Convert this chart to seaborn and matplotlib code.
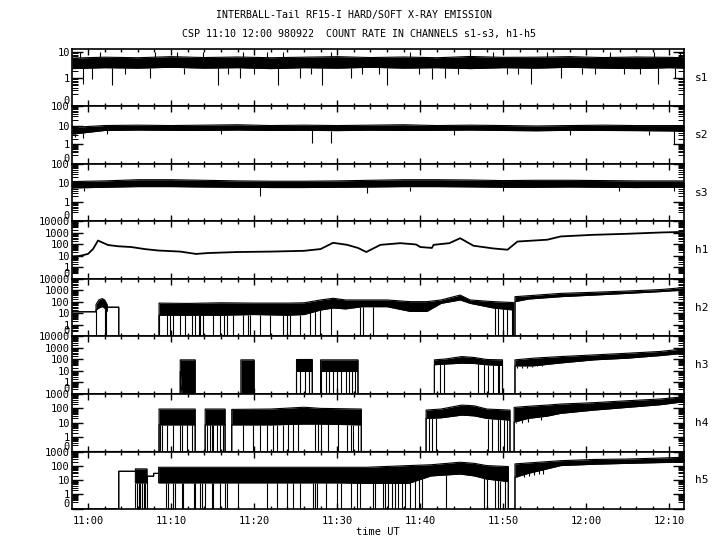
import numpy as np
import matplotlib
matplotlib.use("Agg")
import matplotlib.pyplot as plt
import matplotlib.ticker as mticker
import seaborn as sns

# ── Data (time in minutes after 11:00 UT, count rates) ─────────────────────────
T0, T1 = -1.93, 71.75

# soft channels: noisy band (lo/hi) + single spikes
s_t   = [-1.93, 2, 6, 10, 14, 18, 22, 26, 30, 34, 38, 42, 46, 50, 54, 58, 62, 66, 70, 71.75]
s1_lo = [2.4, 2.6, 2.5, 2.7, 2.5, 2.6, 2.4, 2.6, 2.5, 2.7, 2.5, 2.6, 2.4, 2.6, 2.5, 2.7, 2.5, 2.4, 2.6, 2.5]
s1_hi = [6.0, 6.5, 6.2, 6.8, 6.3, 6.6, 6.2, 6.5, 6.8, 6.3, 6.6, 6.2, 6.9, 6.4, 6.5, 6.8, 6.3, 6.6, 6.4, 6.2]
s2_lo = [3.5, 5.5, 5.8, 5.6, 5.5, 5.8, 5.5, 5.6, 5.4, 5.7, 5.5, 5.6, 5.8, 5.5, 5.3, 5.6, 5.5, 5.4, 5.2, 5.0]
s2_hi = [8.0, 10, 10.5, 10, 10.5, 11, 10, 10.5, 10, 10.5, 11, 10, 10.5, 10, 9.5, 10, 10.5, 10, 10, 10]
s3_lo = [5.5, 6.0, 6.5, 6.5, 6.2, 6.0, 5.8, 5.8, 6.0, 6.2, 6.5, 6.5, 6.3, 6.0, 6.0, 6.2, 6.0, 5.8, 6.0, 6.0]
s3_hi = [12, 13, 15, 15, 14, 13, 12.5, 12.5, 13, 14, 15, 15, 14.5, 13.5, 14, 14, 13.5, 13, 13, 13]

s1_spk_t = [-1.0, -0.6, 0.5, 1.4, 2.9, 4.5, 7.5, 8.1, 10.7, 11.5, 13.9, 15.7, 16.8, 18.3, 18.6,
            20.0, 21.6, 22.9, 23.5, 25.5, 26.8, 28.2, 29.2, 31.6, 33.0, 35.0, 36.0, 38.8, 39.8,
            41.4, 43.0, 44.5, 46.0, 48.8, 50.5, 51.8, 53.3, 55.3, 56.9, 59.5, 61.0, 62.9, 64.5,
            66.5, 68.1, 68.6, 70.7, 71.3]
s1_spk_v = [10, 0.55, 0.9, 10, 0.5, 1.5, 1.0, 10, 10, 1.5, 10, 0.5, 1.5, 1.0, 10,
            1.5, 10, 0.5, 10, 1.0, 1.5, 0.5, 10, 1.0, 1.5, 1.5, 0.5, 10, 1.5,
            0.9, 1.0, 1.5, 10, 10, 1.5, 1.5, 0.55, 10, 1.0, 1.5, 1.5, 10, 1.5,
            1.5, 10, 0.55, 1.0, 10]
s2_spk_t = [-1.6, -0.6, 2.3, 16.0, 27.0, 29.2, 44.0, 58.0, 67.5, 70.5]
s2_spk_v = [2.5, 2.2, 3.5, 3.5, 1.1, 1.2, 3.0, 3.0, 3.0, 1.0]
s3_spk_t = [-0.5, 20.7, 33.6, 38.8, 50.0, 63.9, 70.5]
s3_spk_v = [4, 2, 3, 4, 4, 4, 4]

# h1: single smooth trace
h1_t = [-1.93, -1.0, 0.0, 0.6, 1.2, 2.4, 3.6, 5.2, 6.8, 8.4, 11.1, 13.0, 14.5, 18, 22, 26, 28,
        29.5, 31.2, 32.5, 33.5, 35.2, 37.6, 39.5, 40.0, 41.4, 41.6, 43.5, 44.8, 46.4, 48.8,
        50.5, 51.7, 55.3, 56.9, 60.8, 64.9, 68.9, 71.75]
h1_v = [9, 10, 15, 40, 220, 90, 70, 60, 40, 30, 24, 15, 18, 22, 24, 28, 40,
        140, 93, 50, 22, 93, 130, 100, 60, 50, 93, 130, 350, 78, 45,
        35, 180, 260, 500, 690, 850, 1100, 1250]

# hard channels: band (lo/hi), zero where no counts, plus drop-outs to zero
h2_t  = [-1.93, 0.96, 0.96, 1.3, 1.7, 2.0, 2.3, 2.3, 3.7, 3.7, 8.55, 8.55, 12, 16, 20, 24, 26, 28,
         29.5, 31, 33, 36, 38.8, 40.8, 42.5, 44.8, 46, 48.8, 51.2, 51.2, 51.4, 51.4, 53, 56.9,
         60.9, 64.9, 68.9, 71.75]
h2_lo = [14, 14, 20, 30, 40, 30, 15, 35, 35, 0, 0, 7, 7, 7, 8, 7, 8, 20,
         30, 25, 39, 39, 15, 15, 76, 150, 76, 30, 20, 0, 0, 107, 180, 290,
         400, 560, 800, 1100]
h2_hi = [14, 14, 60, 150, 200, 150, 60, 35, 35, 0, 0, 80, 75, 85, 80, 80, 85, 150,
         210, 150, 150, 150, 107, 107, 150, 400, 150, 107, 90, 0, 0, 290, 350, 560,
         700, 900, 1200, 1800]
h2_drop = [0.96, 2.0, 2.2, 3.7, 8.55, 9.5, 9.9, 10.2, 11.1, 11.7, 12.5, 12.9, 13.3, 13.5, 13.9,
           15.1, 15.9, 16.4, 16.7, 17.5, 18.7, 19.2, 19.5, 20.7, 21.9, 23.5, 24.0, 24.3, 25.5,
           26.7, 27.3, 27.9, 29.2, 32.8, 33.1, 34.3, 49.0, 49.4, 50.0, 50.5, 51.1]

h3_t  = [-1.93, 11.1, 11.1, 11.3, 12.9, 12.9, 18.4, 18.4, 20.0, 20.0, 25.1, 25.1, 26, 27.0, 27.0,
         28.0, 28.0, 30, 32.5, 32.5, 41.7, 41.7, 43, 45, 46.5, 48, 49.9, 49.9, 51.4, 51.4,
         53.6, 56.9, 60.9, 64.9, 68.9, 71.75]
h3_lo = [0, 0, 9, 0, 0, 0, 0, 0, 0, 0, 0, 9, 9, 9, 0,
         0, 9, 9, 9, 0, 0, 35, 40, 48, 45, 35, 30, 0, 0, 28,
         28, 50, 93, 130, 220, 350]
h3_hi = [0, 0, 93, 93, 93, 0, 0, 93, 93, 0, 0, 100, 100, 100, 0,
         0, 93, 93, 93, 0, 0, 93, 110, 180, 150, 100, 93, 0, 0, 93,
         130, 180, 250, 350, 500, 850]
h3_drop = [25.5, 26.1, 26.6, 28.1, 28.6, 29.0, 29.5, 30.0, 30.4, 31.0, 31.4, 31.8, 32.2,
           42.4, 42.8, 47.0, 47.7, 48.2, 48.8, 49.3, 49.5]
h3_dip_t = [51.6, 52.3, 52.9, 53.5, 54.1, 54.7]
h3_dip_v = [18, 18, 20, 22, 25, 25]

h4_t  = [-1.93, 8.55, 8.55, 12.9, 12.9, 14.1, 14.1, 16.5, 16.5, 17.3, 17.3, 22, 26, 28, 32.9, 32.9,
         40.7, 40.7, 42.5, 45, 46.5, 48, 50.8, 50.8, 51.3, 51.3, 53, 55.3, 56.9, 60.9, 64.9,
         68.9, 71.75]
h4_lo = [0, 0, 7, 7, 0, 0, 7, 7, 0, 0, 7, 7, 8, 8, 7, 0,
         0, 20, 22, 34, 30, 20, 15, 0, 0, 11, 20, 29, 45, 76, 117,
         180, 290]
h4_hi = [0, 0, 90, 90, 0, 0, 90, 90, 0, 0, 85, 90, 120, 100, 90, 0,
         0, 76, 90, 170, 150, 90, 76, 0, 0, 117, 140, 170, 200, 250, 340,
         450, 650]
h4_drop = [8.7, 8.9, 9.5, 10.2, 11.1, 11.3, 11.9, 12.5, 14.3, 14.7, 14.9, 15.1, 15.5, 15.9, 16.3,
           18.7, 19.9, 20.7, 21.6, 22.3, 22.8, 23.5, 24.1, 24.7, 25.3, 27.3, 27.7, 28.0, 28.9,
           30.1, 31.2, 31.6, 31.9, 32.5, 41.0, 41.4, 41.9, 48.2, 48.6, 49.3, 49.6, 50.1, 50.5]
h4_dip_t = [51.5, 52.2, 53.0, 54.5]
h4_dip_v = [10, 10, 12, 15]

h5_t  = [-1.93, 3.7, 3.7, 5.7, 5.7, 7.1, 7.1, 7.9, 7.9, 8.5, 8.5, 20, 30, 33.5, 38.6, 41.3,
         44.8, 46.5, 48, 50.6, 50.6, 51.4, 51.4, 53, 56.9, 60.9, 64.9, 68.9, 71.75]
h5_lo = [0, 0, 42, 42, 6.5, 6.5, 19, 19, 30, 30, 6.5, 6.5, 6.5, 6, 6, 20,
         27, 20, 12, 8, 0, 0, 16, 30, 105, 130, 150, 170, 180]
h5_hi = [0, 0, 42, 42, 62, 62, 19, 19, 30, 30, 80, 80, 80, 80, 105, 120,
         180, 150, 105, 90, 0, 0, 138, 160, 230, 280, 300, 350, 400]
h5_drop = [5.7, 5.9, 6.1, 6.3, 6.5, 6.7, 6.9, 7.1, 9.4, 9.6, 10.2, 10.5, 11.3, 11.4, 12.7, 12.9,
           13.5, 13.7, 14.1, 14.9, 15.1, 15.9, 16.5, 16.7, 18.0, 21.6, 22.8, 24.0, 24.7, 25.5,
           27.1, 27.3, 27.6, 28.6, 30.0, 30.4, 31.6, 32.4, 32.8, 34.3, 34.6, 35.5, 35.8, 36.1,
           36.6, 37.0, 37.3, 37.8, 38.2, 38.8, 39.4, 39.9, 40.2, 43.1, 47.7, 48.0, 49.0, 49.3,
           49.6, 50.2]
h5_dip_t = [51.7, 52.5, 53.1, 53.7, 54.3, 54.8]
h5_dip_v = [16, 16, 20, 22, 27, 27]

channels = ["s1", "s2", "s3", "h1", "h2", "h3", "h4", "h5"]
top_dec  = [1.12, 2, 2, 4, 4, 4, 3, 3]      # panel top in decades (bottom = "0")

# ── Style ──────────────────────────────────────────────────────────────────────
sns.set_style("ticks")
plt.rcParams.update({
    "font.family": ["DejaVu Sans Mono"],
    "font.size": 7.5,
    "axes.linewidth": 1.2,
    "axes.edgecolor": "black",
    "xtick.color": "black",
    "ytick.color": "black",
    "text.color": "black",
    "axes.labelcolor": "black",
})
LW = 0.8
C0 = 0.1   # zero sits one decade below 1


def fwd(x):
    return np.log10(np.clip(np.asarray(x, dtype=float) + C0, 1e-9, None))


def inv(y):
    return 10 ** np.asarray(y, dtype=float) - C0


def line(ax, x, y, lw=LW):
    sns.lineplot(x=np.asarray(x, float), y=np.asarray(y, float), ax=ax, color="black",
                 lw=lw, estimator=None, sort=False)


def band(ax, t, lo, hi):
    ax.fill_between(t, lo, hi, color="black", lw=0)
    line(ax, t, lo)
    line(ax, t, hi)


def spikes(ax, t, lo, hi, st, sv):
    lo_i = np.interp(st, t, lo)
    hi_i = np.interp(st, t, hi)
    sv = np.asarray(sv, float)
    base = np.where(sv < lo_i, lo_i, hi_i)
    ax.vlines(st, sv, base, color="black", lw=LW)


def drops(ax, t, lo, dt):
    ax.vlines(dt, 0, np.interp(dt, t, lo), color="black", lw=LW)


fig = plt.figure(figsize=(7.2, 5.5), dpi=100)
axes = fig.subplots(8, 1, sharex=True)
fig.subplots_adjust(left=0.1, right=0.95, top=0.911, bottom=0.0745, hspace=0)

for ax in axes:
    ax.set_yscale("function", functions=(fwd, inv))

# soft channels
for ax, lo, hi, st, sv in [(axes[0], s1_lo, s1_hi, s1_spk_t, s1_spk_v),
                           (axes[1], s2_lo, s2_hi, s2_spk_t, s2_spk_v),
                           (axes[2], s3_lo, s3_hi, s3_spk_t, s3_spk_v)]:
    band(ax, s_t, lo, hi)
    spikes(ax, s_t, lo, hi, st, sv)

line(axes[3], h1_t, h1_v, lw=1.3)

band(axes[4], h2_t, h2_lo, h2_hi)
drops(axes[4], h2_t, h2_lo, h2_drop)

band(axes[5], h3_t, h3_lo, h3_hi)
drops(axes[5], h3_t, h3_lo, h3_drop)
spikes(axes[5], h3_t, h3_lo, h3_hi, h3_dip_t, h3_dip_v)

band(axes[6], h4_t, h4_lo, h4_hi)
drops(axes[6], h4_t, h4_lo, h4_drop)
spikes(axes[6], h4_t, h4_lo, h4_hi, h4_dip_t, h4_dip_v)

band(axes[7], h5_t, h5_lo, h5_hi)
drops(axes[7], h5_t, h5_lo, h5_drop)
spikes(axes[7], h5_t, h5_lo, h5_hi, h5_dip_t, h5_dip_v)


def hhmm(m, _):
    m = int(round(m))
    return f"{11 + m // 60}:{m % 60:02d}"


for i, (ax, name, top) in enumerate(zip(axes, channels, top_dec)):
    ymax = 10 ** top
    ax.set_ylim(0, ymax)
    ax.set_xlim(T0, T1)
    ndec = int(np.floor(top + 1e-9))
    major = [0] + [10 ** d for d in range(0, ndec + 1)]
    minor = [k * 10.0 ** d for d in range(-1, ndec + 1) for k in range(2, 10)
             if k * 10.0 ** d < ymax]
    ax.yaxis.set_major_locator(mticker.FixedLocator(major))
    ax.yaxis.set_major_formatter(mticker.FixedFormatter([str(v) for v in major]))
    ax.yaxis.set_minor_locator(mticker.FixedLocator(minor))
    ax.yaxis.set_minor_formatter(mticker.NullFormatter())
    ax.xaxis.set_major_locator(mticker.MultipleLocator(10))
    ax.xaxis.set_minor_locator(mticker.MultipleLocator(2))
    ax.xaxis.set_major_formatter(mticker.FuncFormatter(hhmm))
    ax.tick_params(axis="x", which="major", direction="in", length=4.5, width=1,
                   top=True, bottom=True, pad=5, labelbottom=(i == 7))
    ax.tick_params(axis="x", which="minor", direction="in", length=2.2, width=1,
                   top=True, bottom=True)
    ax.tick_params(axis="y", which="major", direction="in", length=8, width=1,
                   left=True, right=True, pad=1.5)
    ax.tick_params(axis="y", which="minor", direction="in", length=4, width=0.7,
                   left=True, right=True)
    ax.set_ylabel("")
    ax.yaxis.get_major_ticks()[0].label1.set_verticalalignment("bottom")
    ax.text(1.018, 0.5, name, transform=ax.transAxes, ha="left", va="center", fontsize=8)
    for s in ax.spines.values():
        s.set_visible(True)

axes[-1].set_xlabel("time UT", labelpad=1)

fig.text(0.491, 0.973, "INTERBALL-Tail RF15-I HARD/SOFT X-RAY EMISSION",
         ha="center", va="center", fontsize=7.2)
fig.text(0.499, 0.9376, "CSP 11:10 12:00 980922  COUNT RATE IN CHANNELS s1-s3, h1-h5",
         ha="center", va="center", fontsize=7.2)

fig.savefig("out.png", dpi=100)
